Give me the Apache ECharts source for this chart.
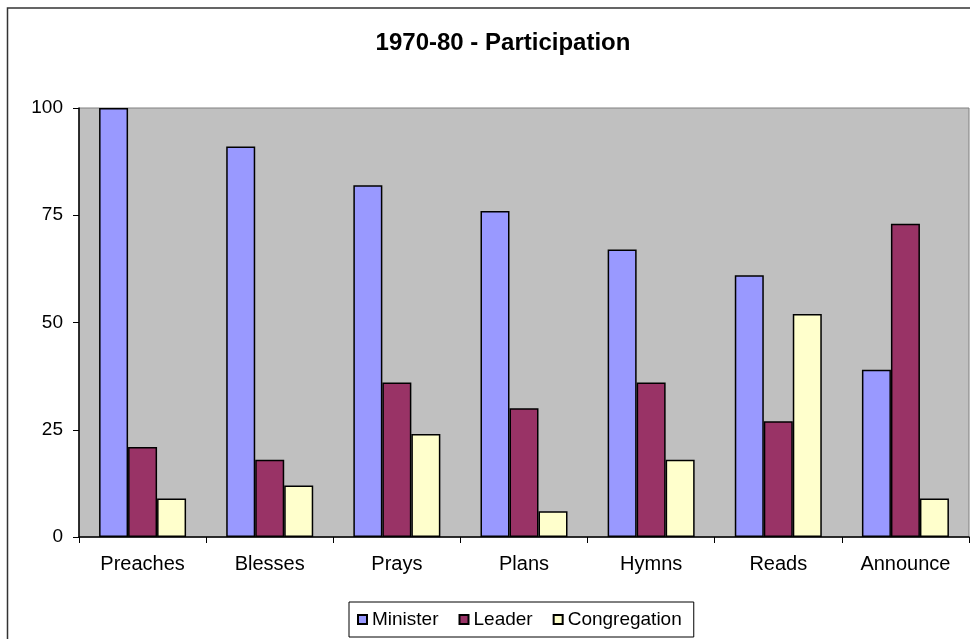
<!DOCTYPE html>
<html>
<head>
<meta charset="utf-8">
<title>1970-80 - Participation</title>
<script src="https://cdn.jsdelivr.net/npm/echarts@6/dist/echarts.min.js"></script>
<style>
  html, body { margin: 0; padding: 0; background: #fff; }
  #main { width: 970px; height: 639px; }
</style>
</head>
<body>
<div id="main"></div>
<script>
  // data
  var categories = ['Preaches', 'Blesses', 'Prays', 'Plans', 'Hymns', 'Reads', 'Announce'];
  var minister = [100, 91, 82, 76, 67, 61, 39];
  var leader = [21, 18, 36, 30, 36, 27, 73];
  var congregation = [9, 12, 24, 6, 18, 52, 9];
  var yTicks = [0, 25, 50, 75, 100];

  var font = 'Liberation Sans, Arial, sans-serif';

  var myChart = echarts.init(document.getElementById('main'));

  function barItem(color) {
    return { color: color, borderColor: '#000', borderWidth: 1.5 };
  }

  var option = {
    backgroundColor: '#fff',
    animation: false,
    title: {
      text: '1970-80 - Participation',
      left: 498,
      top: 26,
      textAlign: 'center',
      textStyle: { fontFamily: font, fontSize: 24, fontWeight: 'bold', color: '#000' }
    },
    // outer chart frame, cut off at right and bottom
    graphic: [{
      type: 'rect',
      shape: { x: 7.5, y: 8, width: 1000, height: 700 },
      style: { fill: 'none', stroke: '#333', lineWidth: 1.5 },
      silent: true
    }],
    legend: {
      data: ['Minister', 'Leader', 'Congregation'],
      left: 349,
      top: 602,
      padding: [8, 12, 8, 8],
      itemGap: 20,
      itemWidth: 9,
      itemHeight: 9,
      icon: 'rect',
      borderColor: '#000',
      borderWidth: 1,
      textStyle: { fontFamily: font, fontSize: 19, color: '#000' }
    },
    grid: {
      left: 79,
      right: 1,
      top: 108,
      bottom: 102,
      show: true,
      backgroundColor: '#C0C0C0',
      borderColor: '#808080',
      borderWidth: 1
    },
    xAxis: {
      type: 'category',
      data: categories,
      axisLine: { lineStyle: { color: '#000', width: 1.5 } },
      axisTick: { show: true, length: 6, lineStyle: { color: '#000' } },
      axisLabel: { margin: 17, fontFamily: font, fontSize: 20, color: '#000' },
      splitLine: { show: false }
    },
    yAxis: {
      type: 'value',
      min: yTicks[0],
      max: yTicks[yTicks.length - 1],
      interval: 25,
      axisLine: { show: true, lineStyle: { color: '#000', width: 1.5 } },
      axisTick: { show: true, length: 6, lineStyle: { color: '#000' } },
      axisLabel: { margin: 16, fontFamily: font, fontSize: 19, color: '#000' },
      splitLine: { show: false }
    },
    series: [{
      name: 'Minister',
      type: 'bar',
      data: minister,
      barWidth: 29,
      barGap: '0%',
      itemStyle: barItem('#9999FF')
    }, {
      name: 'Leader',
      type: 'bar',
      data: leader,
      barWidth: 29,
      barGap: '0%',
      itemStyle: barItem('#993366')
    }, {
      name: 'Congregation',
      type: 'bar',
      data: congregation,
      barWidth: 29,
      barGap: '0%',
      itemStyle: barItem('#FFFFCC')
    }]
  };

  myChart.setOption(option);
</script>
</body>
</html>
